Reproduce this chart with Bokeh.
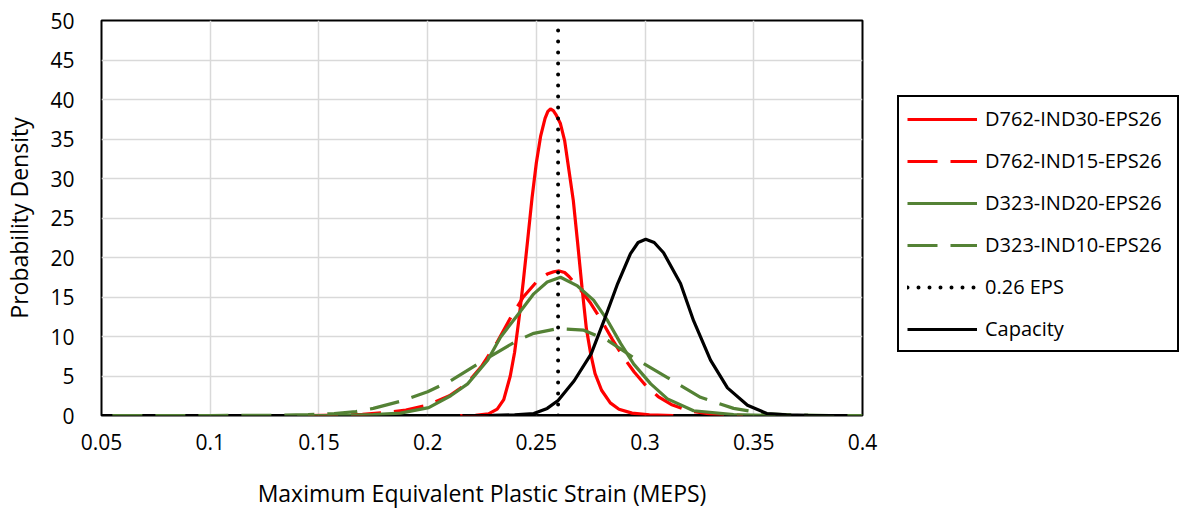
from bokeh.plotting import figure
from bokeh.models import Legend, LegendItem, FixedTicker, CustomJSTickFormatter
from bokeh.embed import file_html
from bokeh.resources import INLINE

# ---- data ----
x_ticks = [0.05, 0.1, 0.15, 0.2, 0.25, 0.3, 0.35, 0.4]
y_ticks = [0, 5, 10, 15, 20, 25, 30, 35, 40, 45, 50]

d762_ind30_x = [0.215, 0.222, 0.228, 0.232, 0.235, 0.238, 0.240, 0.242, 0.244, 0.246, 0.248, 0.250,
                0.252, 0.254, 0.2553, 0.2565, 0.2578, 0.259, 0.261, 0.263, 0.265, 0.267, 0.269, 0.271,
                0.273, 0.275, 0.277, 0.280, 0.284, 0.288, 0.294, 0.302, 0.313]
d762_ind30_y = [0.0, 0.03, 0.2, 0.8, 2.0, 5.0, 8.0, 12.2, 17.0, 22.2, 27.5, 32.0,
                35.4, 37.6, 38.5, 38.8, 38.6, 38.1, 37.0, 34.8, 31.0, 27.2, 21.8, 16.2,
                11.0, 7.8, 5.3, 3.2, 1.6, 0.8, 0.3, 0.08, 0.0]

d762_ind15_x = [0.145, 0.160, 0.170, 0.180, 0.190, 0.200, 0.210, 0.218, 0.225, 0.232, 0.238, 0.244,
                0.250, 0.255, 0.258, 0.2605, 0.263, 0.265, 0.270, 0.275, 0.280, 0.285, 0.290, 0.295,
                0.300, 0.306, 0.312, 0.320, 0.330, 0.345]
d762_ind15_y = [0.0, 0.05, 0.15, 0.35, 0.7, 1.3, 2.5, 4.0, 6.3, 9.3, 12.3, 15.0,
                16.9, 17.9, 18.2, 18.3, 18.1, 17.6, 16.0, 14.2, 12.0, 9.6, 7.4, 5.5,
                3.9, 2.4, 1.4, 0.6, 0.2, 0.0]

d323_ind20_x = [0.140, 0.155, 0.165, 0.175, 0.1875, 0.2005, 0.2106, 0.2184, 0.2276, 0.2335, 0.2413,
                0.2488, 0.255, 0.2611, 0.2689, 0.2763, 0.2828, 0.2888, 0.2948, 0.3026, 0.3103,
                0.3223, 0.3407, 0.360]
d323_ind20_y = [0.0, 0.02, 0.05, 0.12, 0.3, 1.0, 2.5, 4.0, 7.0, 9.9, 12.7,
                15.4, 16.9, 17.5, 16.4, 14.6, 12.0, 9.1, 6.5, 4.0, 2.1,
                0.6, 0.1, 0.0]

d323_ind10_x = [0.055, 0.10, 0.13, 0.145, 0.157, 0.167, 0.175, 0.1875, 0.2, 0.2106, 0.2258, 0.2413,
                0.2488, 0.26, 0.2718, 0.2828, 0.2948, 0.3103, 0.3255, 0.3407, 0.356, 0.37, 0.385, 0.40]
d323_ind10_y = [0.0, 0.0, 0.02, 0.1, 0.25, 0.5, 0.9, 1.8, 3.0, 4.4, 7.0, 9.5,
                10.4, 11.0, 10.8, 9.5, 7.3, 4.8, 2.3, 0.9, 0.2, 0.05, 0.0, 0.0]

eps_x = [0.26, 0.26]
eps_y = [0, 50]

capacity_x = [0.216, 0.230, 0.240, 0.2488, 0.255, 0.26, 0.2674, 0.2752, 0.2811, 0.2874, 0.2933,
              0.2968, 0.3003, 0.3042, 0.3085, 0.3163, 0.3223, 0.3301, 0.3379, 0.3471, 0.356, 0.365,
              0.375, 0.393]
capacity_y = [0.0, 0.02, 0.08, 0.25, 0.9, 1.9, 4.4, 7.8, 12.0, 16.7, 20.5,
              21.9, 22.3, 21.9, 20.6, 16.7, 12.0, 7.0, 3.5, 1.3, 0.25, 0.08,
              0.02, 0.0]

RED = "#ff0000"
GREEN = "#548235"
FONT = "Open Sans"

p = figure(frame_width=761, frame_height=395,
           min_border_left=101, min_border_right=0, min_border_top=20, min_border_bottom=93,
           x_range=(0.05, 0.4), y_range=(0, 50),
           output_backend="svg", toolbar_location=None)
p.background_fill_color = "white"
p.border_fill_color = "white"
p.outline_line_color = "black"
p.outline_line_width = 2

for g in (p.xgrid, p.ygrid):
    g.grid_line_color = "#d9d9d9"
    g.grid_line_width = 1.5

p.xaxis.ticker = FixedTicker(ticks=x_ticks)
p.yaxis.ticker = FixedTicker(ticks=y_ticks)
p.xaxis.formatter = CustomJSTickFormatter(code="return String(Math.round(tick*100)/100);")
p.yaxis.formatter = CustomJSTickFormatter(code="return String(Math.round(tick));")

for ax in (p.xaxis, p.yaxis):
    ax.axis_line_color = None
    ax.major_tick_line_color = None
    ax.minor_tick_line_color = None
    ax.major_label_text_font = FONT
    ax.major_label_text_font_size = "21px"
    ax.major_label_text_color = "black"
    ax.axis_label_text_font = FONT
    ax.axis_label_text_font_size = "23px"
    ax.axis_label_text_font_style = "normal"
    ax.axis_label_text_color = "black"

p.xaxis.axis_label = "Maximum Equivalent Plastic Strain (MEPS)"
p.yaxis.axis_label = "Probability Density"
p.xaxis.major_label_standoff = 12
p.yaxis.major_label_standoff = 21
p.xaxis.axis_label_standoff = 24
p.yaxis.axis_label_standoff = 12

# black line along y = 0 (Excel's horizontal axis line)
p.line(x=[0.05, 0.4], y=[0, 0], line_color="black", line_width=3)

r1 = p.line(d762_ind30_x, d762_ind30_y, line_color=RED, line_width=3.2)
r2 = p.line(d762_ind15_x, d762_ind15_y, line_color=RED, line_width=3.2, line_dash="30 13")
r3 = p.line(d323_ind20_x, d323_ind20_y, line_color=GREEN, line_width=3.2)
r4 = p.line(d323_ind10_x, d323_ind10_y, line_color=GREEN, line_width=3.2, line_dash="30 13")
r5 = p.line(eps_x, eps_y, line_color="black", line_width=4, line_dash="0 11", line_cap="round")
r6 = p.line(capacity_x, capacity_y, line_color="black", line_width=3.2)

legend = Legend(items=[
    LegendItem(label="D762-IND30-EPS26", renderers=[r1]),
    LegendItem(label="D762-IND15-EPS26", renderers=[r2]),
    LegendItem(label="D323-IND20-EPS26", renderers=[r3]),
    LegendItem(label="D323-IND10-EPS26", renderers=[r4]),
    LegendItem(label="0.26 EPS", renderers=[r5]),
    LegendItem(label="Capacity", renderers=[r6]),
], location=(35, 63))
legend.border_line_color = "black"
legend.border_line_alpha = 1
legend.border_line_width = 2
legend.background_fill_color = "white"
legend.background_fill_alpha = 1
legend.label_text_font = FONT
legend.label_text_font_size = "20px"
legend.label_text_color = "black"
legend.glyph_width = 70
legend.glyph_height = 20
legend.spacing = 15
legend.padding = 8
legend.margin = 0
legend.label_standoff = 8
legend.label_width = 184
p.add_layout(legend, "right")

open("out.html", "w").write(file_html(p, INLINE))
